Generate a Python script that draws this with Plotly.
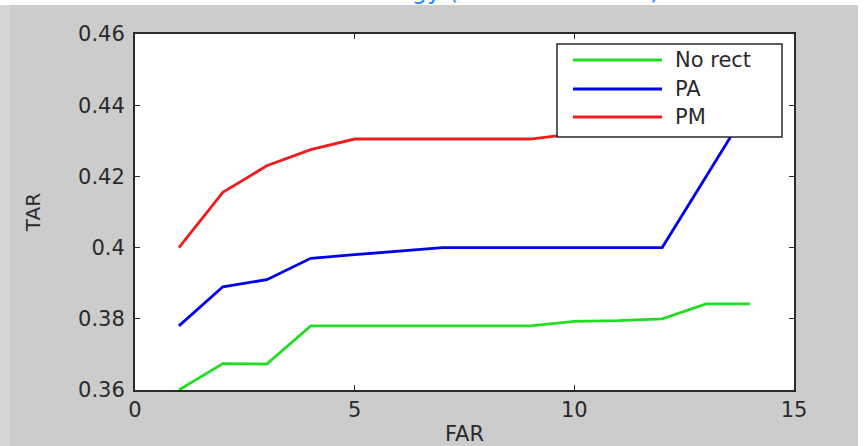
import plotly.graph_objects as go

# ---- data ----
far = [1, 2, 3, 4, 5, 6, 7, 8, 9, 10, 11, 12, 13, 14]
no_rect = [0.360, 0.3674, 0.3673, 0.378, 0.378, 0.378, 0.378, 0.378, 0.378,
           0.3793, 0.3795, 0.380, 0.3842, 0.3842]
pa = [0.378, 0.389, 0.391, 0.397, 0.398, 0.399, 0.400, 0.400, 0.400,
      0.400, 0.400, 0.400, 0.420, 0.440]
pm = [0.400, 0.4155, 0.423, 0.4275, 0.4305, 0.4305, 0.4305, 0.4305, 0.4305,
      0.432, 0.4325, 0.433, 0.435, 0.437]

series_names = ["No rect", "PA", "PM"]
series_colors = ["#22dd22", "#0000ee", "#ee1c1c"]

x_ticks = [0, 5, 10, 15]
x_ticktext = ["0", "5", "10", "15"]
y_ticks = [0.36, 0.38, 0.40, 0.42, 0.44, 0.46]
y_ticktext = ["0.36", "0.38", "0.4", "0.42", "0.44", "0.46"]

# ---- layout geometry (pixels) ----
W, H = 868, 446
L, R, T, B = 135, 794, 34, 390
pw, ph = R - L, B - T


def px(x):
    return (x - L) / pw


def py(y):
    return (B - y) / ph


fig = go.Figure()
for name, vals, col in zip(series_names, [no_rect, pa, pm], series_colors):
    fig.add_trace(go.Scatter(x=far, y=vals, mode="lines", name=name,
                             line=dict(color=col, width=2.8),
                             showlegend=False))

font_main = "DejaVu Sans, Liberation Sans, Arial, sans-serif"
axis_common = dict(showline=True, linecolor="#2a2a2a", linewidth=2,
                   mirror="ticks", ticks="inside", ticklen=5,
                   tickcolor="#2a2a2a", tickwidth=1.2, showgrid=False,
                   zeroline=False, automargin=False,
                   tickfont=dict(family=font_main, size=21, color="#2a2a2a"))

fig.update_layout(
    width=W, height=H,
    margin=dict(l=L, r=W - R, t=T, b=H - B, pad=0),
    paper_bgcolor="#cccccc", plot_bgcolor="white",
    xaxis=dict(range=[0, 15], tickvals=x_ticks, ticktext=x_ticktext,
               ticklabelstandoff=0,
               title=dict(text="FAR", standoff=8,
                          font=dict(family=font_main, size=21, color="#2a2a2a")),
               **axis_common),
    yaxis=dict(range=[0.36, 0.46], tickvals=y_ticks, ticktext=y_ticktext,
               ticklabelstandoff=4,
               title=dict(text="TAR", standoff=32,
                          font=dict(family=font_main, size=20, color="#2a2a2a")),
               **axis_common),
    showlegend=False,
)

shapes = []
annotations = []
# manual MATLAB-style legend box
shapes.append(dict(type="rect", xref="paper", yref="paper",
                   x0=px(557), x1=px(782), y0=py(137), y1=py(44),
                   fillcolor="white", line=dict(color="#2a2a2a", width=1.5),
                   layer="above"))
rows = [60, 89, 117]
for name, col, ry in zip(series_names, series_colors, rows):
    shapes.append(dict(type="line", xref="paper", yref="paper",
                       x0=px(573), x1=px(662), y0=py(ry), y1=py(ry),
                       line=dict(color=col, width=2.8), layer="above"))
    annotations.append(dict(xref="paper", yref="paper", x=px(673), y=py(ry),
                            xanchor="left", yanchor="middle", showarrow=False,
                            text=name,
                            font=dict(family=font_main, size=21, color="#2a2a2a")))

# page fragments around the figure (white strips and cut-off heading)
shapes.append(dict(type="rect", xref="paper", yref="paper",
                   x0=px(-5), x1=px(W + 5), y0=py(5), y1=py(-10),
                   fillcolor="white", line=dict(width=0), layer="above"))
shapes.append(dict(type="rect", xref="paper", yref="paper",
                   x0=px(858), x1=px(W + 5), y0=py(H + 5), y1=py(-10),
                   fillcolor="white", line=dict(width=0), layer="above"))
shapes.append(dict(type="rect", xref="paper", yref="paper",
                   x0=px(-5), x1=px(10), y0=py(H + 5), y1=py(5),
                   fillcolor="#d6d6d6", line=dict(width=0), layer="above"))
annotations.append(dict(xref="paper", yref="paper", x=px(395), y=py(7),
                        xanchor="left", yanchor="bottom", showarrow=False,
                        text="ogy (", font=dict(family=font_main, size=24,
                                                color="#1a8cff")))
annotations.append(dict(xref="paper", yref="paper", x=px(648), y=py(7),
                        xanchor="left", yanchor="bottom", showarrow=False,
                        text=")", font=dict(family=font_main, size=24,
                                            color="#1a8cff")))

fig.update_layout(shapes=shapes, annotations=annotations)
fig.write_html("out.html", config={"displayModeBar": False},
               post_script="document.body.style.margin='0';")
